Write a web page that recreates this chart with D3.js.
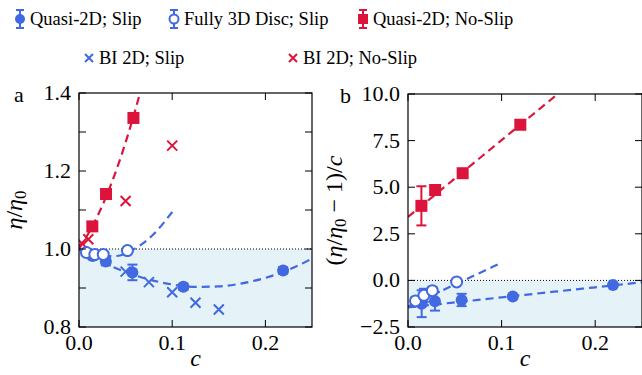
<!DOCTYPE html>
<html>
<head>
<meta charset="utf-8">
<script src="https://cdn.jsdelivr.net/npm/d3@7"></script>
<style>
  body { margin: 0; background: #fff; }
  svg { font-family: "Liberation Serif", "DejaVu Serif", serif; }
  .tick-label { font-size: 22px; fill: #000; }
  .leg-text { font-size: 18.5px; fill: #000; }
</style>
</head>
<body>
<svg id="chart" width="642" height="375"></svg>
<script>
// ---- data ----
const xTicks = [0.0, 0.1, 0.2];
const yTicksA = [0.8, 1.0, 1.2, 1.4];
const yMinorA = [0.9, 1.1, 1.3];
const yTicksB = [-2.5, 0.0, 2.5, 5.0, 7.5, 10.0];

// Quasi-2D; Slip (filled blue circles)
const q2dSlipC = [0.0146, 0.0288, 0.0573, 0.112, 0.219];
const q2dSlipA = [0.982, 0.968, 0.940, 0.903, 0.945];
const q2dSlipAErr = [0.008, 0.01, 0.02, 0.008, 0.008];
const q2dSlipB = [-1.25, -1.12, -1.05, -0.87, -0.25];
const q2dSlipBErr = [0.72, 0.5, 0.33, 0.1, 0.1];

// Fully 3D Disc; Slip (open blue circles)
const discC = [0.008, 0.017, 0.026, 0.052];
const discA = [0.991, 0.986, 0.986, 0.996];
const discAErr = [0.003, 0.004, 0.004, 0.003];
const discB = [-1.1, -0.8, -0.55, -0.08];
const discBErr = [0.2, 0.35, 0.2, 0.1];

// Quasi-2D; No-Slip (red squares)
const q2dNoSlipC = [0.0143, 0.029, 0.0584, 0.12];
const q2dNoSlipA = [1.058, 1.141, 1.336, 2.0];
const q2dNoSlipAErr = [0.01, 0.01, 0.01, 0.01];
const q2dNoSlipB = [4.0, 4.85, 5.75, 8.35];
const q2dNoSlipBErr = [1.05, 0.2, 0.15, 0.1];

// BI 2D (crosses, panel a only)
const bi2dSlipC = [0.05, 0.075, 0.1, 0.125, 0.15];
const bi2dSlipA = [0.942, 0.915, 0.889, 0.862, 0.845];
const bi2dNoSlipC = [0.003, 0.01, 0.05, 0.1];
const bi2dNoSlipA = [1.015, 1.025, 1.123, 1.265];

// dashed fit curves
const fitQ2dSlipC = [0, 0.025, 0.05, 0.075, 0.1, 0.125, 0.15, 0.175, 0.2, 0.225, 0.25];
const fitQ2dSlipA = [1.0, 0.967, 0.941, 0.922, 0.909, 0.903, 0.904, 0.912, 0.926, 0.947, 0.975];
const fitQ2dSlipB = [-1.45, -1.315, -1.18, -1.045, -0.91, -0.775, -0.64, -0.505, -0.37, -0.235, -0.1];
const fitDiscC = [0, 0.02, 0.04, 0.06, 0.08, 0.1];
const fitDiscA = [1.0, 0.981, 0.982, 1.001, 1.038, 1.095];
const fitDiscB = [-1.4, -0.93, -0.46, 0.01, 0.48, 0.95];
const fitNoSlipC = [0, 0.02, 0.04, 0.06, 0.08, 0.1, 0.16];
const fitNoSlipA = [1.0, 1.085, 1.202, 1.353, 1.536, 1.752, 2.4];
const fitNoSlipB = [3.4, 4.225, 5.05, 5.875, 6.7, 7.525, 10.0];

const blue = "#4169e1";
const red = "#dc143c";
const shade = "#e5f2f8";

const svg = d3.select("#chart");
const zip = (xs, ys, es) => xs.map((x, i) => ({ c: x, v: ys[i], e: es ? es[i] : 0 }));

function drawPanel(cfg) {
    const w = cfg.x1 - cfg.x0, h = cfg.y1 - cfg.y0;
    const g = svg.append("g").attr("transform", `translate(${cfg.x0},${cfg.y0})`);
    const x = d3.scaleLinear().domain([0, 0.25]).range([0, w]);
    const y = d3.scaleLinear().domain(cfg.yDomain).range([h, 0]);

    g.append("clipPath").attr("id", cfg.id + "-clip")
        .append("rect").attr("width", w).attr("height", h);
    const plot = g.append("g").attr("clip-path", `url(#${cfg.id}-clip)`);

    // shaded region below reference value
    plot.append("rect")
        .attr("x", 0).attr("y", y(cfg.ref))
        .attr("width", w).attr("height", h - y(cfg.ref))
        .attr("fill", shade);
    plot.append("line")
        .attr("x1", 0).attr("x2", w).attr("y1", y(cfg.ref)).attr("y2", y(cfg.ref))
        .attr("stroke", "#000").attr("stroke-width", 1).attr("stroke-dasharray", "1,2");

    // fit lines
    const line = d3.line().x(d => x(d.c)).y(d => y(d.v)).curve(d3.curveMonotoneX);
    cfg.fits.forEach(f => {
        plot.append("path").datum(f.data)
            .attr("d", line).attr("fill", "none")
            .attr("stroke", f.color).attr("stroke-width", 2.2)
            .attr("stroke-dasharray", "8,5");
    });

    // error bars
    const errBars = (data, color) => {
        const eg = plot.append("g").attr("stroke", color).attr("stroke-width", 2);
        data.forEach(d => {
            if (!d.e) return;
            eg.append("line").attr("x1", x(d.c)).attr("x2", x(d.c))
                .attr("y1", y(d.v - d.e)).attr("y2", y(d.v + d.e));
            [d.v - d.e, d.v + d.e].forEach(v => {
                eg.append("line").attr("x1", x(d.c) - 5).attr("x2", x(d.c) + 5)
                    .attr("y1", y(v)).attr("y2", y(v));
            });
        });
    };

    // crosses
    (cfg.crosses || []).forEach(s => {
        s.data.forEach(d => {
            const cx = x(d.c), cy = y(d.v), r = 5;
            plot.append("path")
                .attr("d", `M${cx - r},${cy - r}L${cx + r},${cy + r}M${cx - r},${cy + r}L${cx + r},${cy - r}`)
                .attr("stroke", s.color).attr("stroke-width", 2).attr("fill", "none");
        });
    });

    // red squares
    errBars(cfg.squares, red);
    plot.selectAll(null).data(cfg.squares).join("rect")
        .attr("x", d => x(d.c) - 6).attr("y", d => y(d.v) - 6)
        .attr("width", 12).attr("height", 12).attr("fill", red);

    // filled circles
    errBars(cfg.filled, blue);
    plot.selectAll(null).data(cfg.filled).join("circle")
        .attr("cx", d => x(d.c)).attr("cy", d => y(d.v)).attr("r", 6).attr("fill", blue);

    // open circles
    errBars(cfg.open, blue);
    plot.selectAll(null).data(cfg.open).join("circle")
        .attr("cx", d => x(d.c)).attr("cy", d => y(d.v)).attr("r", 5.5)
        .attr("fill", "#fff").attr("stroke", blue).attr("stroke-width", 2);

    // frame and inward ticks on all sides
    g.append("rect").attr("width", w).attr("height", h)
        .attr("fill", "none").attr("stroke", "#000").attr("stroke-width", 1.2);
    const tk = 7;
    xTicks.forEach(t => {
        g.append("line").attr("x1", x(t)).attr("x2", x(t)).attr("y1", h).attr("y2", h - tk).attr("stroke", "#000");
        g.append("line").attr("x1", x(t)).attr("x2", x(t)).attr("y1", 0).attr("y2", tk).attr("stroke", "#000");
        g.append("text").attr("class", "tick-label")
            .attr("x", x(t)).attr("y", h + 23).attr("text-anchor", "middle")
            .text(d3.format(".1f")(t));
    });
    cfg.yTicks.concat(cfg.yMinor).forEach(t => {
        g.append("line").attr("x1", 0).attr("x2", tk).attr("y1", y(t)).attr("y2", y(t)).attr("stroke", "#000");
        g.append("line").attr("x1", w).attr("x2", w - tk).attr("y1", y(t)).attr("y2", y(t)).attr("stroke", "#000");
    });
    cfg.yTicks.forEach(t => {
        g.append("text").attr("class", "tick-label")
            .attr("x", -8).attr("y", y(t) + 7).attr("text-anchor", "end")
            .text(d3.format(".1f")(t).replace("-", "\u2212"));
    });

    // axis titles
    g.append("text").attr("x", w / 2).attr("y", h + 39)
        .attr("text-anchor", "middle").attr("font-style", "italic").attr("font-size", 24)
        .text("c");
    const yl = g.append("text")
        .attr("transform", `translate(${cfg.yLabelX},${h / 2}) rotate(-90)`)
        .attr("text-anchor", "middle").attr("font-size", 24);
    cfg.yLabel(yl);

    g.append("text").attr("x", cfg.tagX).attr("y", 9).attr("font-size", 22).text(cfg.tag);
}

const yLabelA = t => {
    t.append("tspan").attr("font-style", "italic").text("η");
    t.append("tspan").text("/");
    t.append("tspan").attr("font-style", "italic").text("η");
    t.append("tspan").attr("font-size", 17).attr("dy", 4).text("0");
};
const yLabelB = t => {
    t.append("tspan").text("(");
    t.append("tspan").attr("font-style", "italic").text("η");
    t.append("tspan").text("/");
    t.append("tspan").attr("font-style", "italic").text("η");
    t.append("tspan").attr("font-size", 17).attr("dy", 4).text("0");
    t.append("tspan").attr("dy", -4).text(" \u2212 1)/");
    t.append("tspan").attr("font-style", "italic").text("c");
};

drawPanel({
    id: "pa", tag: "a", tagX: -65, x0: 79, x1: 312, y0: 93, y1: 327,
    yDomain: [0.8, 1.4], ref: 1.0, yTicks: yTicksA, yMinor: yMinorA,
    yLabelX: -57, yLabel: yLabelA,
    fits: [
        { color: blue, data: zip(fitQ2dSlipC, fitQ2dSlipA) },
        { color: blue, data: zip(fitDiscC, fitDiscA) },
        { color: red, data: zip(fitNoSlipC, fitNoSlipA) }
    ],
    crosses: [
        { color: blue, data: zip(bi2dSlipC, bi2dSlipA) },
        { color: red, data: zip(bi2dNoSlipC, bi2dNoSlipA) }
    ],
    squares: zip(q2dNoSlipC, q2dNoSlipA, q2dNoSlipAErr),
    filled: zip(q2dSlipC, q2dSlipA, q2dSlipAErr),
    open: zip(discC, discA, discAErr)
});

drawPanel({
    id: "pb", tag: "b", tagX: -68, x0: 408, x1: 642, y0: 94, y1: 327,
    yDomain: [-2.5, 10], ref: 0.0, yTicks: yTicksB, yMinor: [],
    yLabelX: -66, yLabel: yLabelB,
    fits: [
        { color: blue, data: zip(fitQ2dSlipC, fitQ2dSlipB) },
        { color: blue, data: zip(fitDiscC, fitDiscB) },
        { color: red, data: zip(fitNoSlipC, fitNoSlipB) }
    ],
    squares: zip(q2dNoSlipC, q2dNoSlipB, q2dNoSlipBErr),
    filled: zip(q2dSlipC, q2dSlipB, q2dSlipBErr),
    open: zip(discC, discB, discBErr)
});

// ---- legend ----
const legendItems = [
    { label: "Quasi-2D; Slip", kind: "filled", color: blue, x: 20, y: 19 },
    { label: "Fully 3D Disc; Slip", kind: "open", color: blue, x: 174, y: 19 },
    { label: "Quasi-2D; No-Slip", kind: "square", color: red, x: 363, y: 19 },
    { label: "BI 2D; Slip", kind: "cross", color: blue, x: 89, y: 58 },
    { label: "BI 2D; No-Slip", kind: "cross", color: red, x: 293, y: 58 }
];
const leg = svg.append("g");
legendItems.forEach(it => {
    const g = leg.append("g").attr("transform", `translate(${it.x},${it.y})`);
    if (it.kind !== "cross") {
        g.append("line").attr("y1", -9).attr("y2", 9).attr("stroke", it.color).attr("stroke-width", 2);
        [-9, 9].forEach(v => g.append("line").attr("x1", -4).attr("x2", 4).attr("y1", v).attr("y2", v)
            .attr("stroke", it.color).attr("stroke-width", 2));
    }
    if (it.kind === "filled") g.append("circle").attr("r", 5).attr("fill", it.color);
    if (it.kind === "open") g.append("circle").attr("r", 4.5).attr("fill", "#fff")
        .attr("stroke", it.color).attr("stroke-width", 2);
    if (it.kind === "square") g.append("rect").attr("x", -5).attr("y", -5).attr("width", 10).attr("height", 10)
        .attr("fill", it.color);
    if (it.kind === "cross") g.append("path").attr("d", "M-4,-4L4,4M-4,4L4,-4")
        .attr("stroke", it.color).attr("stroke-width", 2);
    g.append("text").attr("class", "leg-text").attr("x", 10).attr("y", 6).text(it.label);
});
</script>
</body>
</html>
